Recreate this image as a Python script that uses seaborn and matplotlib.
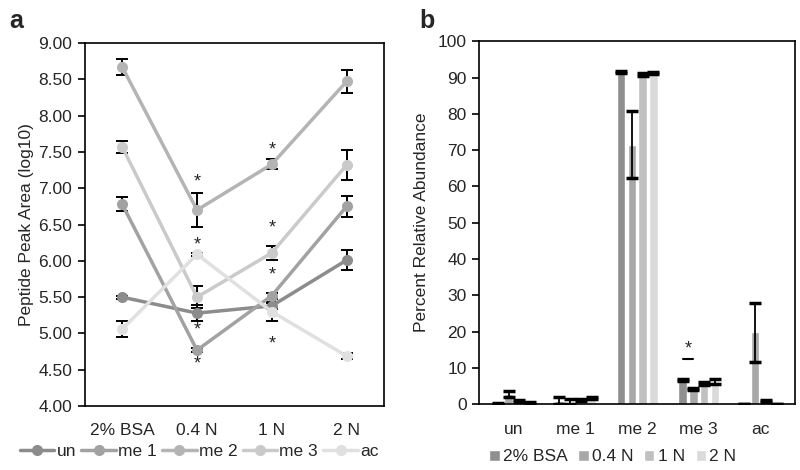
import matplotlib
matplotlib.use("Agg")
import matplotlib.pyplot as plt
import seaborn as sns
import pandas as pd
import numpy as np

sns.set_style("white")
plt.rcParams['font.family'] = ['Liberation Sans', 'DejaVu Sans']

# ---- data panel a ----
conditions = ["2% BSA", "0.4 N", "1 N", "2 N"]
mod_labels = ["un", "me 1", "me 2", "me 3", "ac"]
peak_un = [5.50, 5.28, 5.38, 6.01]
peak_me1 = [6.78, 4.77, 5.52, 6.75]
peak_me2 = [8.67, 6.70, 7.33, 8.47]
peak_me3 = [7.57, 5.50, 6.11, 7.32]
peak_ac = [5.06, 6.09, 5.30, 4.69]
err_un = [0.02, 0.11, 0.04, 0.14]
err_me1 = [0.10, 0.03, 0.04, 0.14]
err_me2 = [0.11, 0.24, 0.07, 0.16]
err_me3 = [0.08, 0.15, 0.10, 0.20]
err_ac = [0.11, 0.02, 0.13, 0.04]
line_colors = ["#8c8c8c", "#a2a2a2", "#b4b4b4", "#cacaca", "#e0e0e0"]
# significance stars (condition index, y)
stars_a_x = [1, 1, 1, 1, 2, 2, 2, 2]
stars_a_y = [7.08, 6.22, 5.05, 4.58, 7.52, 6.45, 5.80, 4.85]

# ---- data panel b ----
groups = ["un", "me 1", "me 2", "me 3", "ac"]
treatments = ["2% BSA", "0.4 N", "1 N", "2 N"]
pct_bsa = [0.1, 1.0, 91.5, 6.7, 0.05]
pct_04n = [2.8, 0.7, 71.5, 4.3, 19.8]
pct_1n = [0.8, 1.2, 90.8, 5.7, 0.8]
pct_2n = [0.3, 1.7, 91.3, 6.3, 0.05]
perr_bsa = [0.1, 0.9, 0.35, 0.3, 0.0]
perr_04n = [0.7, 0.7, 9.3, 0.3, 8.1]
perr_1n = [0.25, 0.2, 0.4, 0.3, 0.25]
perr_2n = [0.2, 0.3, 0.3, 0.6, 0.0]
bar_colors = ["#8f8f8f", "#a8a8a8", "#c0c0c0", "#dadada"]

peaks = [peak_un, peak_me1, peak_me2, peak_me3, peak_ac]
errs = [err_un, err_me1, err_me2, err_me3, err_ac]
df_a = pd.DataFrame([(c, m, v) for m, vals in zip(mod_labels, peaks)
                     for c, v in zip(conditions, vals)],
                    columns=["cond", "mod", "val"])

pcts = [pct_bsa, pct_04n, pct_1n, pct_2n]
perrs = [perr_bsa, perr_04n, perr_1n, perr_2n]
df_b = pd.DataFrame([(g, t, v) for t, vals in zip(treatments, pcts)
                     for g, v in zip(groups, vals)],
                    columns=["grp", "trt", "val"])

FS = 12.5
fig = plt.figure(figsize=(8, 4.7), dpi=100)
ax1 = fig.add_axes([0.106, 0.136, 0.374, 0.7725])
ax2 = fig.add_axes([0.599, 0.140, 0.395, 0.7723])

# panel a
sns.lineplot(data=df_a, x="cond", y="val", hue="mod", palette=line_colors,
             hue_order=mod_labels, marker="o", markersize=8, markeredgewidth=0,
             linewidth=2.5, sort=False, ax=ax1, zorder=3)
xs = np.arange(len(conditions))
for vals, e in zip(peaks, errs):
    ax1.errorbar(xs, vals, yerr=e, fmt="none", ecolor="black", elinewidth=1.4,
                 capsize=4, capthick=1.4, zorder=2.5)
for sx, sy in zip(stars_a_x, stars_a_y):
    ax1.text(sx, sy, "*", ha="center", va="center", fontsize=13)
ax1.set_ylim(4.0, 9.0)
ax1.set_xlim(-0.5, 3.5)
ax1.set_yticks(np.arange(4.0, 9.01, 0.5))
ax1.set_yticklabels([f"{v:.2f}" for v in np.arange(4.0, 9.01, 0.5)])
ax1.set_xlabel("")
ax1.set_ylabel("Peptide Peak Area (log10)", fontsize=FS, labelpad=3)
handles, labels = ax1.get_legend_handles_labels()
ax1.get_legend().remove()
fig.legend(handles, labels, loc="center", bbox_to_anchor=(0.249, 0.04), ncol=5,
           frameon=False, fontsize=FS, handlelength=2.0, columnspacing=0.3,
           handletextpad=0.12, borderaxespad=0)

# panel b
sns.barplot(data=df_b, x="grp", y="val", hue="trt", hue_order=treatments,
            order=groups, palette=bar_colors, width=0.7, gap=0.2,
            errorbar=None, saturation=1, ax=ax2)
for cont, e in zip(ax2.containers, perrs):
    cx = [b.get_x() + b.get_width() / 2 for b in cont]
    cy = [b.get_height() for b in cont]
    ax2.errorbar(cx, cy, yerr=e, fmt="none", ecolor="black", elinewidth=1.3,
                 capsize=4.5, capthick=2.5, zorder=5)
# significance line and star in me3 group
c0 = ax2.containers[0][3]
c1 = ax2.containers[1][3]
x0 = c0.get_x() + c0.get_width() / 2
x1 = c1.get_x() + c1.get_width() / 2
ax2.plot([x0, x1], [12.5, 12.5], color="black", lw=1.5)
ax2.text((x0 + x1) / 2, 15.2, "*", ha="center", va="center", fontsize=13)
ax2.set_ylim(0, 100)
ax2.set_yticks(range(0, 101, 10))
ax2.set_xlabel("")
ax2.set_ylabel("Percent Relative Abundance", fontsize=FS, labelpad=6)
handles, labels = ax2.get_legend_handles_labels()
ax2.get_legend().remove()
fig.legend(handles, labels, loc="center", bbox_to_anchor=(0.766, 0.028), ncol=4,
           frameon=False, fontsize=FS, handlelength=0.6, handleheight=0.6,
           columnspacing=0.6, handletextpad=0.2, borderaxespad=0)

for ax in (ax1, ax2):
    for s in ax.spines.values():
        s.set_color("black")
        s.set_linewidth(1.2)
    ax.tick_params(axis="y", left=True, length=5, width=1.2, labelsize=FS,
                   direction="out", color="black", pad=4)
    ax.tick_params(axis="x", bottom=False, labelsize=FS, pad=9)

fig.text(0.012, 0.955, "a", fontsize=18, fontweight="bold", va="center")
fig.text(0.524, 0.955, "b", fontsize=18, fontweight="bold", va="center")

fig.savefig("out.png", dpi=100)
